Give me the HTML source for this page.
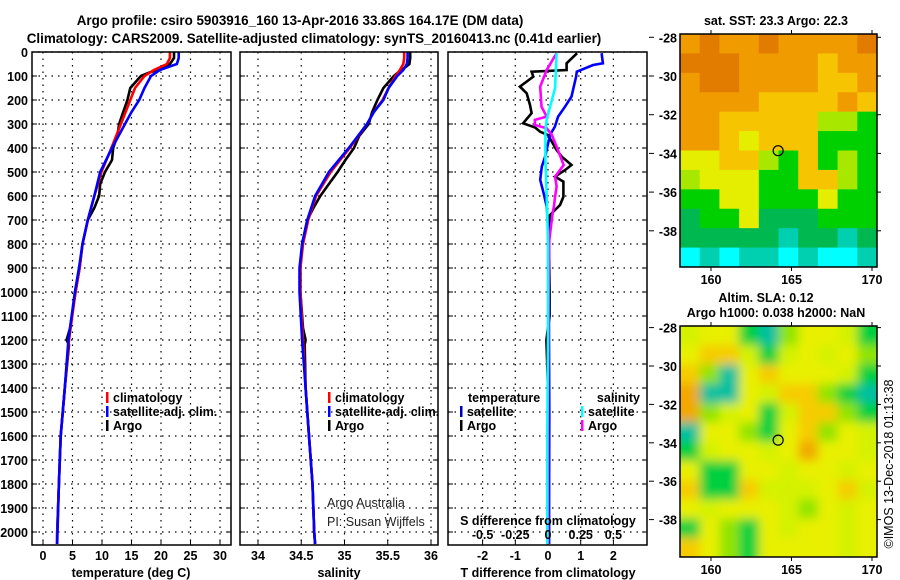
<!DOCTYPE html>
<html><head><meta charset="utf-8"><style>
html,body{margin:0;padding:0;background:#fff}
svg{display:block;font-family:"Liberation Sans",sans-serif}
.b{font-weight:bold;font-size:12.5px}
.t{font-weight:bold;font-size:13.4px}
</style></head><body>
<svg id="chart" width="900" height="580" viewBox="0 0 900 580" xmlns="http://www.w3.org/2000/svg">
<defs>
<clipPath id="c1"><rect x="32" y="52" width="199" height="493"/></clipPath>
<clipPath id="c2"><rect x="240" y="52" width="198" height="493"/></clipPath>
<clipPath id="c3"><rect x="448" y="52" width="199" height="493"/></clipPath>
<clipPath id="cm1"><rect x="680" y="34" width="197" height="233"/></clipPath>
<clipPath id="cm2"><rect x="680" y="326" width="197" height="231"/></clipPath>
<filter id="blur" x="-10%" y="-10%" width="120%" height="120%"><feGaussianBlur stdDeviation="5"/></filter>
</defs>
<rect width="900" height="580" fill="#fff"/>
<text class="t" x="300" y="25" text-anchor="middle">Argo profile: csiro 5903916_160 13-Apr-2016 33.86S 164.17E (DM data)</text>
<text class="t" x="314" y="43" text-anchor="middle">Climatology: CARS2009. Satellite-adjusted climatology: synTS_20160413.nc (0.41d earlier)</text>
<g id="g"></g>
</svg>
<script>
// ---------- data ----------
const tDepth=[0,25,50,75,100,150,200,250,300,400,500,600,700,800,900,1000,1200,1400,1600,1800,2000,2050];
const tClim=[21.5,21.5,21.0,18.8,17.2,15.6,14.8,14.0,13.2,11.6,9.9,8.7,7.6,6.7,6.2,5.5,4.4,3.7,3.0,2.7,2.4,2.35];
const tSat=[23.0,23.0,22.7,19.8,18.3,17.2,16.3,15.0,13.9,11.7,9.7,8.7,7.6,6.7,6.1,5.4,4.3,3.7,3.0,2.7,2.45,2.4];
const aDepth=[0,25,50,70,85,100,150,200,250,300,350,400,450,500,550,600,650,700,800,900,1000,1150,1200,1220,1400,1600,1800,2000,2050];
const tArgo=[22.2,22.2,21.5,20.0,18.1,16.6,14.8,14.3,13.6,12.9,12.6,11.9,11.7,10.5,9.7,9.5,8.7,7.6,6.7,6.2,5.5,4.6,4.0,4.4,3.7,3.0,2.7,2.4,2.4];
const sClim=[35.69,35.69,35.68,35.64,35.59,35.51,35.44,35.34,35.26,35.06,34.84,34.67,34.58,34.52,34.49,34.49,34.52,34.55,34.59,34.63,34.65,34.66];
const sSat=[35.73,35.73,35.72,35.68,35.61,35.51,35.45,35.34,35.26,35.05,34.82,34.66,34.57,34.51,34.48,34.48,34.51,34.55,34.59,34.63,34.65,34.66];
const sArgo=[35.76,35.76,35.75,35.68,35.62,35.57,35.45,35.38,35.32,35.28,35.17,35.11,35.01,34.92,34.82,34.72,34.64,34.57,34.51,34.49,34.49,34.52,34.55,34.54,34.55,34.59,34.63,34.65,34.66];
const dDepthArgoT=[5,47,75,82,103,144,172,221,255,297,314,332,346,408,436,471,492,519,540,603,637,679,707,800,1000,1100,1200,1400,2050];
const dArgoT=[0.89,0.57,0.57,-0.5,-0.45,-0.86,-0.65,-0.55,-0.5,-0.76,-0.4,-0.24,0,0.26,0.42,0.72,0.52,0.21,0.47,0.47,0.37,0.06,0.06,0.03,0.05,0.05,-0.05,0.0,0.03];
const dDepthSatT=[5,47,54,82,103,186,228,269,311,346,436,478,533,589,644,714,900,1200,1500,2050];
const dSatT=[1.64,1.68,1.38,0.88,0.86,0.72,0.52,0.31,0.21,0.06,-0.09,-0.19,-0.24,-0.13,-0.04,0.0,0.02,0.03,0.04,0.03];
const dDepthArgoS=[5,75,144,228,269,283,304,318,346,394,471,519,561,603,644,672,783,1000,1500,2050];
const dArgoS=[0.066,-0.01,-0.06,-0.05,-0.01,-0.1,-0.1,-0.01,0.03,0.066,0.12,0.054,0.066,0.054,0.045,0.035,0.01,0.005,0.0,0.0];
const dDepthSatS=[5,150,280,330,450,600,800,1200,1600,2050];
const dSatS=[0.066,0.054,-0.01,-0.02,-0.02,-0.01,0.0,0.0,-0.005,-0.005];
const depthTicks=[0,100,200,300,400,500,600,700,800,900,1000,1100,1200,1300,1400,1500,1600,1700,1800,1900,2000];
const tTicks=[0,5,10,15,20,25,30];
const sTicks=[34,34.5,35,35.5,36];
const dtTicks=[-2,-1,0,1,2];
const dsTicks=[-0.5,-0.25,0,0.25,0.5];
const dsLabels=["-0.5","-0.25","0","0.25","0.5"];
const latTicks=[-28,-30,-32,-34,-36,-38];
const lonTicks=[160,165,170];
// map grids (colour level indices), rows north->south
const sstGrid=[
[1,0,1,1,0,1,1,1,1,0],[0,0,0,1,1,1,1,2,1,1],[1,0,0,1,1,1,1,2,2,1],[1,1,1,1,2,2,2,2,1,2],
[1,1,2,2,2,2,2,4,4,5],[1,1,2,3,2,2,2,5,5,5],[3,3,2,2,4,5,2,5,4,5],[4,3,3,3,5,5,2,2,4,5],
[5,5,3,3,5,5,5,3,5,5],[6,5,5,3,6,6,6,5,5,5],[6,6,6,6,6,7,6,6,7,6],[8,7,8,7,7,8,7,8,8,7]];
const slaGrid=[
[3,2,2,5,6,4,2,2,3,5],[2,1,1,3,5,3,2,3,2,4],[1,4,6,2,1,2,2,2,3,5],[0,6,6,2,3,1,1,4,5,6],
[0,4,3,2,5,3,1,1,4,5],[6,2,2,4,5,2,1,4,2,3],[5,3,2,2,3,2,0,2,2,3],[2,5,5,2,2,3,2,2,3,2],
[1,5,5,1,3,3,3,2,1,3],[2,3,2,2,2,3,4,2,3,2],[5,2,4,5,2,3,2,2,3,2],[1,2,4,5,2,2,2,2,3,2]];
const sstColors=['#e27c00','#f09c00','#f6c400','#e6ee00','#a8e800','#00d000','#00b850','#00d0b0','#00ffff'];
const slaColors=['#f2a800','#f6cc00','#e8f000','#d4f200','#90e400','#00d040','#00c0a0','#00ffff'];
const floatLon=164.17, floatLat=-33.86;

// ---------- scales ----------
const yD=d=>52+0.24*d;
const xT=t=>43+5.9*t;
const xS=s=>258+86.5*(s-34);
const xDT=v=>548+32.7*v;
const xDS=v=>548+130.8*v;
const mx=lon=>711+16.1*(lon-160);
const my1=lat=>76-19.35*(lat+30);
const my2=lat=>366-19.2*(lat+30);

const NS='http://www.w3.org/2000/svg';
const G=document.getElementById('g');
function mk(tag,attrs,parent){const e=document.createElementNS(NS,tag);for(const k in attrs)e.setAttribute(k,attrs[k]);(parent||G).appendChild(e);return e;}
function txt(x,y,s,cls,anchor,parent){const e=mk('text',{x:x,y:y,'text-anchor':anchor||'middle','class':cls||'b'},parent);e.textContent=s;return e;}

// ---------- panels ----------
const panels=[{x:32,w:199,clip:'c1',name:'temperature'},{x:240,w:198,clip:'c2',name:'salinity'},{x:448,w:199,clip:'c3',name:'difference'}];
panels.forEach(p=>{
  const grp=mk('g',{});
  
  
  depthTicks.forEach(d=>{
    const l=mk('line',{x1:p.x,x2:p.x+p.w,y1:yD(d),y2:yD(d),stroke:'#000','stroke-width':1.2,'stroke-dasharray':'1.5,5'},grp);
    
    
    mk('line',{x1:p.x,x2:p.x+5,y1:yD(d),y2:yD(d),stroke:'#000'},grp);
    mk('line',{x1:p.x+p.w-5,x2:p.x+p.w,y1:yD(d),y2:yD(d),stroke:'#000'},grp);
  });
});
function vgrid(xs,name){xs.forEach(x=>{const l=mk('line',{x1:x,x2:x,y1:52,y2:545,stroke:'#000','stroke-width':1.2,'stroke-dasharray':'1.5,5'});
  
  
  mk('line',{x1:x,x2:x,y1:540,y2:545,stroke:'#000'});});}
vgrid(tTicks.map(xT),'temperature-gridline');
vgrid(sTicks.map(xS),'salinity-gridline');
vgrid(dtTicks.map(xDT),'difference-gridline');

function line(xs,ys,xf,color,clip,name,w){
  const pts=xs.map((v,i)=>xf(v).toFixed(1)+','+yD(ys[i]).toFixed(1)).join(' ');
  const e=mk('polyline',{points:pts,fill:'none',stroke:color,'stroke-width':w||2.6,'clip-path':'url(#'+clip+')','stroke-linejoin':'miter'});
  
  
}
line(tArgo,aDepth,xT,'#000','c1','temperature-argo-line');
line(tClim,tDepth,xT,'#ff0000','c1','temperature-climatology-line');
line(tSat,tDepth,xT,'#0000ff','c1','temperature-satellite-line');
line(sArgo,aDepth,xS,'#000','c2','salinity-argo-line');
line(sClim,tDepth,xS,'#ff0000','c2','salinity-climatology-line');
line(sSat,tDepth,xS,'#0000ff','c2','salinity-satellite-line');
line(dArgoT,dDepthArgoT,xDT,'#000','c3','t-diff-argo-line');
line(dSatT,dDepthSatT,xDT,'#0000ff','c3','t-diff-satellite-line');
line(dArgoS,dDepthArgoS,xDS,'#ff00ff','c3','s-diff-argo-line');
line(dSatS,dDepthSatS,xDS,'#00ffff','c3','s-diff-satellite-line');

panels.forEach(p=>{const r=mk('rect',{x:p.x,y:52,width:p.w,height:493,fill:'none',stroke:'#000','stroke-width':1.5});
  
  });

// tick labels
depthTicks.forEach(d=>{const e=txt(28,yD(d)+5,String(d),'b','end');
  
  });
tTicks.forEach(t=>{const e=txt(xT(t),560,String(t));
  
  });
sTicks.forEach(s=>{const e=txt(xS(s),560,String(s));
  
  });
dtTicks.forEach(t=>{const e=txt(xDT(t),560,String(t));
  
  });
dsTicks.forEach((s,i)=>{const e=txt(xDS(s),539,dsLabels[i]);
  
  });
[[131,'temperature (deg C)','x-axis-title-temperature'],[339,'salinity','x-axis-title-salinity'],[548,'T difference from climatology','x-axis-title-t-diff']].forEach(a=>{
  const e=txt(a[0],577,a[1]);
  
  });
{const e=txt(548,525,'S difference from climatology');
 
 }
{const e=txt(327,507,'Argo Australia','n','start');e.setAttribute('style','font-size:12.5px;fill:#222');
 
 
 const f=txt(327,526,'PI: Susan Wijffels','n','start');f.setAttribute('style','font-size:12.5px;fill:#222');
 
 }

// legends
function leg(x,y,color,label,name){
  const g=mk('g',{});
  
  
  mk('rect',{x:x,y:y-10,width:2.5,height:11,fill:color},g);
  txt(x+7,y,label,'b','start',g);
}
leg(106,402,'#ff0000','climatology','legend-climatology');
leg(106,416,'#0000ff','satellite-adj. clim.','legend-satellite');
leg(106,430,'#000','Argo','legend-argo');
leg(328,402,'#ff0000','climatology','legend-climatology-2');
leg(328,416,'#0000ff','satellite-adj. clim.','legend-satellite-2');
leg(328,430,'#000','Argo','legend-argo-2');
{const e=txt(468,402,'temperature','b','start');}
{const e=txt(640,402,'salinity','b','end');}
leg(460,416,'#0000c0','satellite','legend-t-satellite');
leg(460,430,'#000','Argo','legend-t-argo');
leg(581,416,'#00ffff','satellite','legend-s-satellite');
leg(581,430,'#ff00ff','Argo','legend-s-argo');

// ---------- maps ----------
function drawMap(grid,colors,y0,h,clip,myf,name,blur){
  const grp=mk('g',{'clip-path':'url(#'+clip+')'});
  
  
  const inner=mk('g',blur?{filter:'url(#blur)'}:{},grp);
  const rows=grid.length,cols=grid[0].length,cw=197/cols,ch=h/rows;
  const ext=blur?1:0;
  for(let r=-ext;r<rows+ext;r++)for(let c=-ext;c<cols+ext;c++){
    const rr=Math.min(rows-1,Math.max(0,r)),cc=Math.min(cols-1,Math.max(0,c));
    const cell=mk('rect',{x:680+c*cw,y:y0+r*ch,width:cw+0.6,height:ch+0.6,fill:colors[grid[rr][cc]]},inner);
    
    
  }
  mk('rect',{x:680,y:y0,width:197,height:h,fill:'none',stroke:'#000','stroke-width':1.5});
  latTicks.forEach(l=>{const y=myf(l);
    mk('line',{x1:877,x2:881,y1:y,y2:y,stroke:'#000'});
    mk('line',{x1:649,x2:654,y1:y,y2:y,stroke:'#000'});
    const e=txt(677,y+5,String(l),'b','end');
    
    });
  lonTicks.forEach(l=>{const x=mx(l);
    mk('line',{x1:x,x2:x,y1:y0-4,y2:y0,stroke:'#000'});
    mk('line',{x1:x,x2:x,y1:y0+h,y2:y0+h+4,stroke:'#000'});
    const e=txt(x,y0+h+17,String(l));
    
    });
  const m=mk('circle',{cx:mx(floatLon),cy:myf(floatLat),r:5,fill:'none',stroke:'#000','stroke-width':1.2});
  
  
}
drawMap(sstGrid,sstColors,34,233,'cm1',my1,'sst-map',false);
drawMap(slaGrid,slaColors,326,231,'cm2',my2,'sla-map',true);
{const e=txt(776,25,'sat. SST: 23.3 Argo: 22.3');}
{const e=txt(766,302,'Altim. SLA: 0.12');}
{const e=txt(776,317,'Argo h1000: 0.038 h2000: NaN');}
{const e=txt(0,0,'©IMOS 13-Dec-2018 01:13:38','n','middle');e.setAttribute('style','font-size:12.5px');
 e.setAttribute('transform','translate(893,464) rotate(-90)');
 
 }
</script>
</body></html>
